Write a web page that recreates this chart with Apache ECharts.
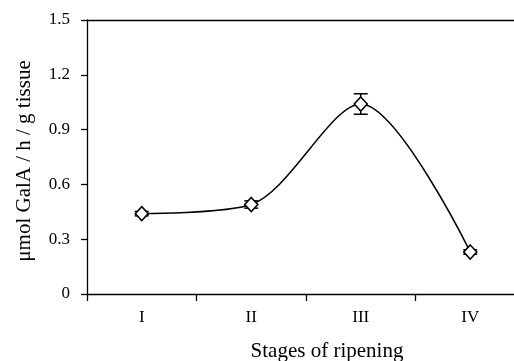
<!DOCTYPE html>
<html>
<head>
<meta charset="utf-8">
<script src="https://cdn.jsdelivr.net/npm/echarts@6/dist/echarts.min.js"></script>
<style>
  html, body { margin: 0; padding: 0; background: #fff; }
  #chart { width: 514px; height: 361px; }
</style>
</head>
<body>
<div id="chart"></div>
<script>
/* Pectinase activity by ripening stage */

var stages = ['I', 'II', 'III', 'IV'];
var activity = [0.44, 0.49, 1.04, 0.23];
var errors = [0.012, 0.02, 0.056, 0.012];
var yTicks = [0, 0.3, 0.6, 0.9, 1.2, 1.5];

var font = 'Liberation Serif, Times New Roman, serif';

var errData = stages.map(function (s, i) {
	return [i, activity[i] - errors[i], activity[i] + errors[i]];
});

var chart = echarts.init(document.getElementById('chart'));

var option = {
	animation: false,
	backgroundColor: '#fff',
	grid: {
		left: 87,
		top: 20,
		width: 438,
		height: 274,
		outerBoundsMode: 'none',
		containLabel: false
	},
	xAxis: [
		{
			type: 'category',
			data: stages,
			boundaryGap: true,
			axisLine: { lineStyle: { color: '#000', width: 1.3 } },
			axisTick: { show: true, length: 7, inside: false, lineStyle: { color: '#000', width: 1.3 } },
			axisLabel: { color: '#000', fontFamily: font, fontSize: 17, margin: 15 },
			name: 'Stages of ripening',
			nameLocation: 'middle',
			nameGap: 47,
			nameTextStyle: { color: '#000', fontFamily: font, fontSize: 21, padding: [0, 0, 0, 42] }
		},
		{
			type: 'category',
			data: stages,
			position: 'top',
			axisLine: { lineStyle: { color: '#000', width: 1.3 } },
			axisTick: { show: false },
			axisLabel: { show: false }
		}
	],
	yAxis: {
		type: 'value',
		min: 0,
		max: 1.5,
		interval: 0.3,
		axisLine: { show: true, lineStyle: { color: '#000', width: 1.3 } },
		axisTick: { show: true, length: 6, lineStyle: { color: '#000', width: 1.3 } },
		splitLine: { show: false },
		axisLabel: {
			color: '#000',
			fontFamily: font,
			fontSize: 17,
			margin: 17,
			formatter: function (v) {
				var t = yTicks.indexOf(Math.round(v * 10) / 10);
				return t < 0 ? '' : (v === 0 ? '0' : v.toFixed(1));
			}
		},
		name: 'μmol GalA / h / g tissue',
		nameLocation: 'middle',
		nameGap: 52,
		nameTextStyle: { color: '#000', fontFamily: font, fontSize: 21, padding: [0, 8, 0, 0] }
	},
	series: [
		{
			name: 'Activity',
			type: 'line',
			data: activity,
			smooth: 0.3,
			symbol: 'diamond',
			symbolSize: [13, 14],
			lineStyle: { color: '#000', width: 1.5 },
			itemStyle: { color: '#fff', borderColor: '#000', borderWidth: 1.6 },
			z: 3
		},
		{
			name: 'Error',
			type: 'custom',
			data: errData,
			z: 2,
			renderItem: function (params, api) {
				var x = api.value(0);
				var lo = api.coord([x, api.value(1)]);
				var hi = api.coord([x, api.value(2)]);
				var hw = 7;
				var st = { stroke: '#000', lineWidth: 1.5 };
				return {
					type: 'group',
					children: [
						{ type: 'line', shape: { x1: lo[0], y1: lo[1], x2: hi[0], y2: hi[1] }, style: st },
						{ type: 'line', shape: { x1: lo[0] - hw, y1: lo[1], x2: lo[0] + hw, y2: lo[1] }, style: st },
						{ type: 'line', shape: { x1: hi[0] - hw, y1: hi[1], x2: hi[0] + hw, y2: hi[1] }, style: st }
					]
				};
			}
		}
	]
};

chart.setOption(option);
</script>
</body>
</html>
